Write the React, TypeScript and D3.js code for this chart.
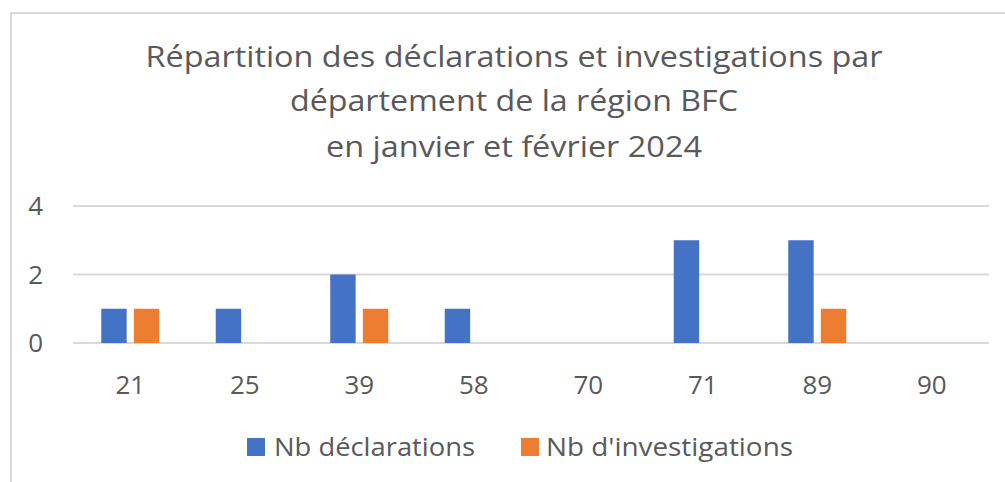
import React, { useEffect, useRef } from "react";
import * as d3 from "d3";

const categories = ["21", "25", "39", "58", "70", "71", "89", "90"];
const declarations = [1, 1, 2, 1, 0, 3, 3, 0];
const investigations = [1, 0, 1, 0, 0, 0, 1, 0];
const seriesNames = ["Nb déclarations", "Nb d'investigations"];
const seriesColors = ["#4472C4", "#ED7D31"];
const yTicks = [0, 2, 4];
const titleLines = [
  "Répartition des déclarations et investigations par",
  "département de la région BFC",
  "en janvier et février 2024",
];

export default function App() {
  const ref = useRef<SVGSVGElement>(null);

  useEffect(() => {
    const svg = d3.select(ref.current);
    svg.selectAll("*").remove();
    const W = 1005, H = 482;
    const font = "'Open Sans', sans-serif";
    const textColor = "#595959";

    // chart border
    svg.append("rect").attr("x", 11).attr("y", 13).attr("width", W).attr("height", H)
      .attr("fill", "#fff").attr("stroke", "#d9d9d9").attr("stroke-width", 2);

    // title
    const titleBaselines = [67, 111, 157];
    const titleWidths = [737, 448, 376];
    titleLines.forEach((t, i) => {
      svg.append("text").attr("x", 514).attr("y", titleBaselines[i])
        .attr("text-anchor", "middle").attr("font-family", font).attr("font-size", 30)
        .attr("fill", textColor).attr("textLength", titleWidths[i])
        .attr("lengthAdjust", "spacingAndGlyphs").text(t);
    });

    const left = 73, right = 989, top = 206, bottom = 343;
    const x0 = d3.scaleBand<string>().domain(categories).range([left, right]).paddingInner(0).paddingOuter(0);
    const x1 = d3.scaleBand<string>().domain(seriesNames).range([-29, 29]).paddingInner(0.22);
    const y = d3.scaleLinear().domain([0, 4]).range([bottom, top]);

    // gridlines
    yTicks.forEach((v) => {
      svg.append("line").attr("x1", left).attr("x2", right).attr("y1", y(v)).attr("y2", y(v))
        .attr("stroke", "#d9d9d9").attr("stroke-width", 2);
      svg.append("text").attr("x", 43).attr("y", y(v)).attr("dy", "0.35em")
        .attr("text-anchor", "end").attr("font-family", font).attr("font-size", 26)
        .attr("fill", textColor).text(String(v));
    });

    const data = [declarations, investigations];
    data.forEach((vals, si) => {
      svg.append("g").selectAll("rect").data(vals).join("rect")
        .attr("x", (_d, i) => (x0(categories[i]) as number) + x0.bandwidth() / 2 + (x1(seriesNames[si]) as number))
        .attr("width", x1.bandwidth())
        .attr("y", (d) => y(d))
        .attr("height", (d) => y(0) - y(d))
        .attr("fill", seriesColors[si]);
    });

    // category labels
    categories.forEach((c) => {
      svg.append("text").attr("x", (x0(c) as number) + x0.bandwidth() / 2).attr("y", 394)
        .attr("text-anchor", "middle").attr("font-family", font).attr("font-size", 26)
        .attr("fill", textColor).text(c);
    });

    // legend
    const legendItems = [
      { sx: 247, tx: 274, w: 201 },
      { sx: 521, tx: 546, w: 247 },
    ];
    legendItems.forEach((l, i) => {
      svg.append("rect").attr("x", l.sx).attr("y", 438).attr("width", 18).attr("height", 18)
        .attr("fill", seriesColors[i]);
      svg.append("text").attr("x", l.tx).attr("y", 456).attr("font-family", font)
        .attr("font-size", 26).attr("fill", textColor).attr("textLength", l.w)
        .attr("lengthAdjust", "spacingAndGlyphs").text(seriesNames[i]);
    });
  }, []);

  return (
    <svg ref={ref} width={1005} height={482}
      style={{ position: "absolute", left: 0, top: 0, display: "block", background: "#fff" }} />
  );
}
